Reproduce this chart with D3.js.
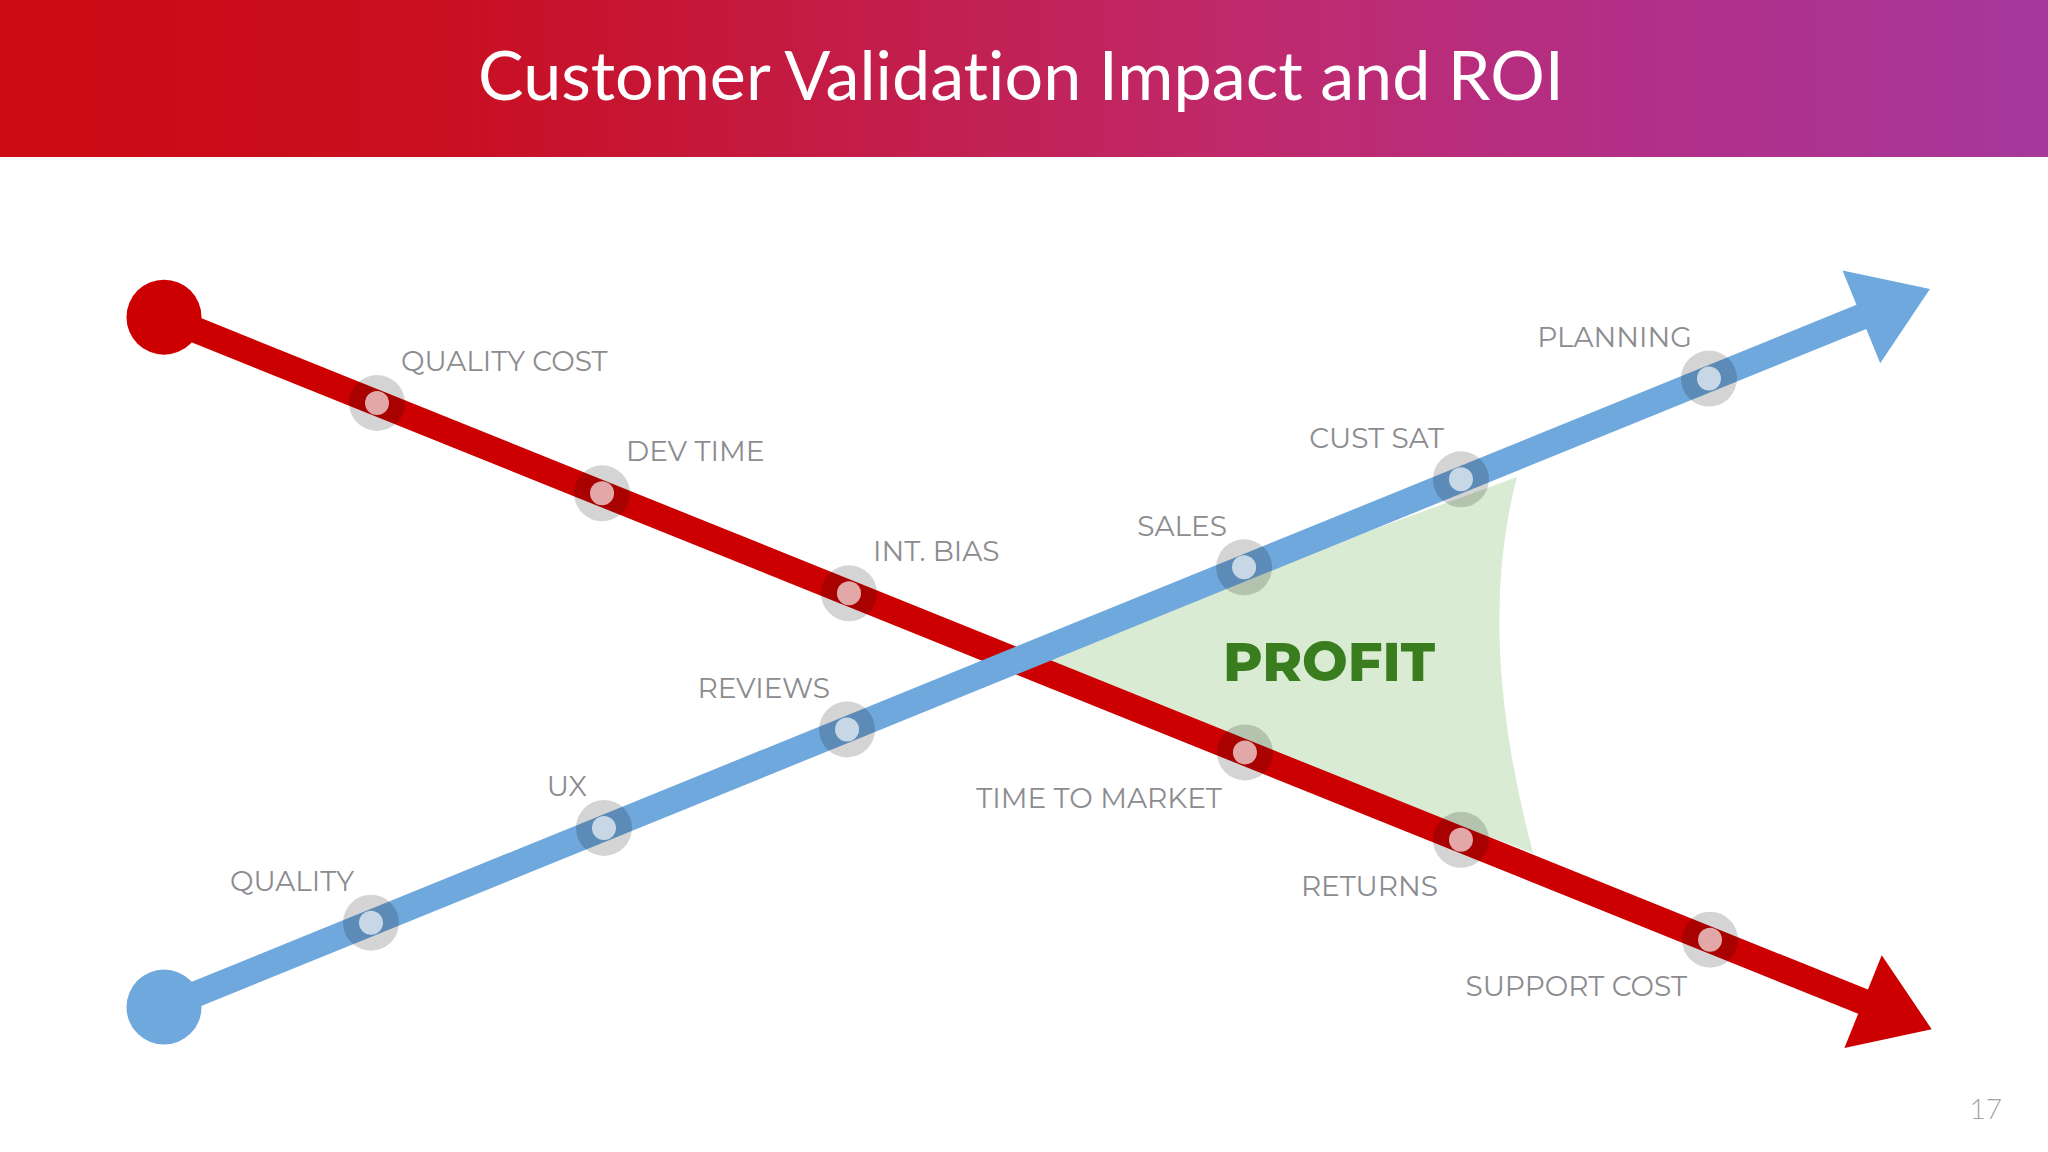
<!DOCTYPE html>
<html>
<head>
<meta charset="utf-8">
<script src="https://cdn.jsdelivr.net/npm/d3@7"></script>
<style>
  html, body { margin: 0; padding: 0; background: #ffffff; }
  svg { display: block; }
  text { font-variant-ligatures: none; font-feature-settings: "liga" 0, "clig" 0; }
</style>
</head>
<body>
<svg id="chart" width="2048" height="1152"></svg>
<script>
// ---------------- DATA ----------------
const titleText = "Customer Validation Impact and ROI";
const pageNumber = "17";

// Cost line (red, falling)
const redLabels = ["QUALITY COST", "DEV TIME", "INT. BIAS", "TIME TO MARKET", "RETURNS", "SUPPORT COST"];
const redStage  = [12.05, 24.78, 38.75, 61.15, 73.37, 87.46];
const redLevel  = [84.6, 72.4, 58.9, 37.4, 25.6, 12.1];
const redLineStage = [0, 100];
const redLineLevel = [96.2, 0];

// Value line (blue, rising)
const blueLabels = ["QUALITY", "UX", "REVIEWS", "SALES", "CUST SAT", "PLANNING"];
const blueStage  = [11.71, 24.89, 38.64, 61.10, 73.37, 87.40];
const blueLevel  = [14.4, 27.2, 40.5, 62.4, 74.3, 87.9];
const blueLineStage = [0, 99.9];
const blueLineLevel = [3.0, 100];

// Profit region: crossing point, top on blue line, curve control, bottom on red line
const profitStage = [48.2, 76.54, 74.16, 77.45];
const profitLevel = [49.83, 74.6, 53.27, 23.82];
const profitLabel = "PROFIT";

// ---------------- DRAW ----------------
const W = 2048, H = 1152;
const svg = d3.select("#chart");

const x = d3.scaleLinear().domain([0, 100]).range([164, 1931.7]);
const y = d3.scaleLinear().domain([0, 100]).range([1029.3, 289]);

const defs = svg.append("defs");
const grad = defs.append("linearGradient").attr("id", "hdr").attr("x1", "0").attr("x2", "1").attr("y1", "0").attr("y2", "0");
[[0, "#cc0a12"], [0.22, "#c90f22"], [0.45, "#c21f4e"], [0.62, "#bf2a6e"], [0.8, "#b22f88"], [1, "#a6389c"]]
  .forEach(([o, c]) => grad.append("stop").attr("offset", o).attr("stop-color", c));

svg.append("rect").attr("width", W).attr("height", H).attr("fill", "#ffffff");
svg.append("rect").attr("width", W).attr("height", 157).attr("fill", "url(#hdr)");

const title = svg.append("text")
  .attr("x", 1021).attr("y", 100)
  .attr("text-anchor", "middle")
  .attr("fill", "#ffffff")
  .attr("font-family", "Lato, 'Open Sans', sans-serif")
  .attr("font-size", 69)
  .text(titleText);
const tw = title.node().getComputedTextLength();
title.attr("font-size", 69 * 1086 / tw);

// Profit area
const P = profitStage.map((s, i) => [x(s), y(profitLevel[i])]);
const pp = d3.path();
pp.moveTo(P[0][0], P[0][1]);
pp.lineTo(P[1][0], P[1][1]);
pp.quadraticCurveTo(P[2][0], P[2][1], P[3][0], P[3][1]);
pp.closePath();
svg.append("path").attr("d", pp.toString()).attr("fill", "#d9ebd2");

function drawArrowLine(stages, levels, color) {
  const S = [x(stages[0]), y(levels[0])];
  const T = [x(stages[1]), y(levels[1])];
  const dx = T[0] - S[0], dy = T[1] - S[1];
  const L = Math.hypot(dx, dy);
  const u = [dx / L, dy / L];
  const n = [-u[1], u[0]];
  const headLen = 74, headHalf = 50;
  const B = [T[0] - u[0] * headLen, T[1] - u[1] * headLen];
  const g = svg.append("g");
  g.append("line")
    .attr("x1", S[0]).attr("y1", S[1])
    .attr("x2", B[0] + u[0] * 4).attr("y2", B[1] + u[1] * 4)
    .attr("stroke", color).attr("stroke-width", 26);
  g.append("circle").attr("cx", S[0]).attr("cy", S[1]).attr("r", 37.5).attr("fill", color);
  g.append("path")
    .attr("d", d3.line()([T, [B[0] + n[0] * headHalf, B[1] + n[1] * headHalf], [B[0] - n[0] * headHalf, B[1] - n[1] * headHalf]]) + "Z")
    .attr("fill", color);
}

drawArrowLine(redLineStage, redLineLevel, "#cc0000");
drawArrowLine(blueLineStage, blueLineLevel, "#6fa8dc");

function drawMarkers(stages, levels) {
  const g = svg.append("g");
  const d = stages.map((s, i) => ({ cx: x(s), cy: y(levels[i]) }));
  g.selectAll("circle.halo").data(d).join("circle")
    .attr("class", "halo")
    .attr("cx", p => p.cx).attr("cy", p => p.cy).attr("r", 28)
    .attr("fill", "#000000").attr("fill-opacity", 0.17);
  g.selectAll("circle.dot").data(d).join("circle")
    .attr("class", "dot")
    .attr("cx", p => p.cx).attr("cy", p => p.cy).attr("r", 12)
    .attr("fill", "#ffffff").attr("fill-opacity", 0.66);
}
drawMarkers(redStage, redLevel);
drawMarkers(blueStage, blueLevel);

const labelFont = "Montserrat, Inter, 'Open Sans', sans-serif";
function drawLabels(labels, stages, levels, placer) {
  svg.append("g").selectAll("text").data(labels).join("text")
    .each(function (t, i) {
      const pl = placer(i);
      d3.select(this)
        .attr("x", x(stages[i]) + pl.dx)
        .attr("y", y(levels[i]) + pl.dy)
        .attr("text-anchor", pl.anchor);
    })
    .attr("font-family", labelFont)
    .attr("font-size", 28)
    .attr("fill", "#8c8c90")
    .text(t => t);
}
drawLabels(redLabels, redStage, redLevel, i => i < 3 ? { dx: 24, dy: -32, anchor: "start" } : { dx: -23, dy: 56, anchor: "end" });
drawLabels(blueLabels, blueStage, blueLevel, i => ({ dx: -17, dy: -31.5, anchor: "end" }));

// Profit label
svg.append("text")
  .attr("x", 1329).attr("y", 681)
  .attr("text-anchor", "middle")
  .attr("font-family", "Montserrat, Inter, 'Open Sans', sans-serif")
  .attr("font-weight", 800)
  .attr("font-size", 54)
  .attr("fill", "#3a7d1f")
  .text(profitLabel);

// Page number
svg.append("text")
  .attr("x", 2002).attr("y", 1119)
  .attr("text-anchor", "end")
  .attr("font-family", "Lato, sans-serif")
  .attr("font-weight", 300)
  .attr("font-size", 28)
  .attr("fill", "#a6a6a6")
  .text(pageNumber);
</script>
</body>
</html>
